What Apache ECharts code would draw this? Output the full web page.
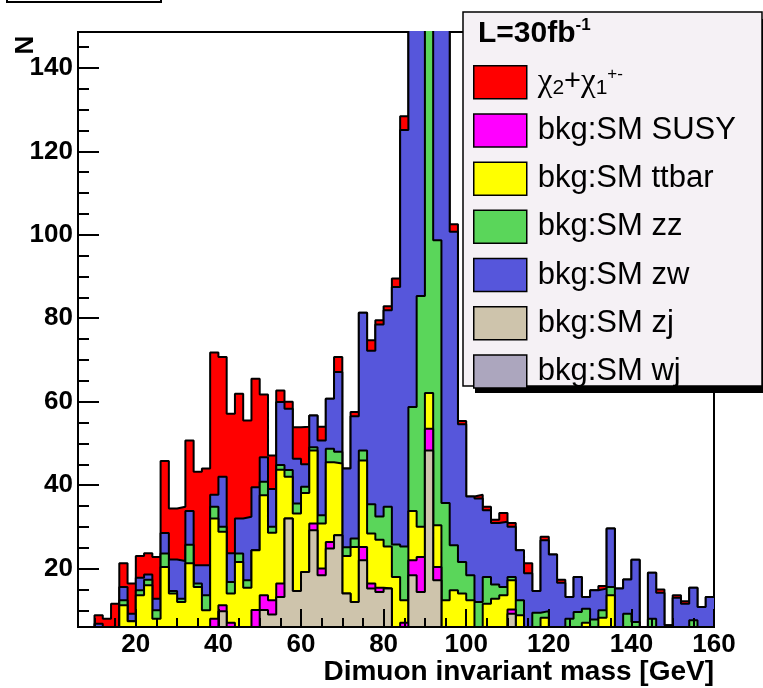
<!DOCTYPE html>
<html>
<head>
<meta charset="utf-8">
<script src="https://cdn.jsdelivr.net/npm/echarts@6/dist/echarts.min.js"></script>
<style>
html, body { margin: 0; padding: 0; background: #fff; }
#chart { width: 763px; height: 688px; }
</style>
</head>
<body>
<div id="chart"></div>
<script>
// lower edges of the 2 GeV bins
const binLow = [
  6, 8, 10, 12, 14, 16, 18, 20, 22, 24,
  26, 28, 30, 32, 34, 36, 38, 40, 42, 44,
  46, 48, 50, 52, 54, 56, 58, 60, 62, 64,
  66, 68, 70, 72, 74, 76, 78, 80, 82, 84,
  86, 88, 90, 92, 94, 96, 98, 100, 102, 104,
  106, 108, 110, 112, 114, 116, 118, 120, 122, 124,
  126, 128, 130, 132, 134, 136, 138, 140, 142, 144,
  146, 148, 150, 152, 154, 156, 158
];
const xMax = 160;

// entries per bin, stacked from the bottom up
const wj = [
  0, 0, 0, 0, 0, 0, 0, 0, 0, 0,
  0, 0, 0, 0, 0, 0, 0, 0, 0, 0,
  0, 0, 0, 0, 0, 0, 0, 0, 0, 0,
  0, 0, 0, 0, 0, 0, 0, 0, 0, 0,
  0, 0, 0, 0, 0, 0, 0, 0, 0, 0,
  0, 0, 0, 0, 0, 0, 0, 0, 0, 0,
  0, 0, 0, 0, 0, 0, 0, 0, 0, 0,
  0, 0, 0, 0, 0, 0, 0
];
const zj = [
  0, 0, 0, 0, 0, 0, 0, 0, 0, 0,
  0, 0, 0, 0, 0, 0, 0, 9.8, 0, 0,
  0, 0, 10.1, 9, 13.2, 32, 14.6, 19.2, 29.2, 18.4,
  24.8, 28, 14, 12, 22, 15.2, 14.4, 15.2, 0, 0,
  18.4, 14.4, 48.3, 17.2, 0, 0, 0, 0, 0, 0,
  0, 0, 9.2, 0, 0, 0, 0, 0, 0, 0,
  0, 0, 0, 0, 0, 0, 0, 0, 0, 0,
  0, 0, 0, 0, 0, 0, 0
];
const susy = [
  0, 0, 0, 0, 0, 0, 0, 0, 0, 0,
  0, 0, 0, 0, 0, 0, 8, 1.4, 7, 0,
  0, 10.1, 3.5, 3.4, 3.2, 0, 0, 0, 1.6, 1.6,
  1.6, 0, 0, 0, 3.2, 1.2, 1, 0, 0, 7,
  3.6, 8.4, 5.2, 3.2, 0, 0, 0, 0, 0, 0,
  0, 0, 1, 0, 0, 0, 0, 0, 0, 0,
  0, 0, 0, 0, 0, 0, 0, 0, 0, 0,
  0, 0, 0, 0, 0, 0, 0
];
const ttbar = [
  0, 0, 0, 0, 0, 11.2, 7.4, 13.6, 16, 8,
  20.4, 14, 12, 21.3, 15.6, 10, 24, 17.6, 7, 21.6,
  15.4, 14.3, 24, 16.2, 27.3, 10, 18.6, 18.9, 17.5, 10.8,
  19.1, 17.2, 9, 13.2, 20.7, 12, 11.5, 10.1, 18, 5.4,
  11.8, 7.2, 8.6, 10, 12.4, 14.8, 14, 12.4, 0, 11.6,
  12.8, 13.6, 7, 8.8, 0, 0, 8.2, 0, 0, 0,
  0, 7, 0, 8.2, 13.6, 0, 0, 0, 0, 0,
  0, 0, 0, 0, 0, 0, 0
];
const zz = [
  0, 0, 0, 0, 0, 1.2, 0, 1.2, 1.3, 2,
  3.2, 0.6, 0.8, 4.4, 0.8, 3.6, 2.8, 1.2, 2.8, 2,
  1.8, 0, 3.2, 1.4, 1.1, 1.6, 2.4, 1.5, 0.8, 2,
  3.2, 2.8, 2.1, 2, 2.4, 7, 5.6, 9.5, 7.8, 12.9,
  24.9, 55.3, 160, 68.3, 23.3, 10.8, 7.6, 6, 12, 6.4,
  3.4, 2, 0.8, 3.6, 0, 9.4, 1.6, 0, 0, 8,
  9.6, 3.4, 7.8, 1.8, 2, 0, 9.2, 7.2, 0, 8,
  0, 0, 0, 0, 7.6, 0, 0
];
const zw = [
  0, 0, 6.8, 0, 0, 3.2, 1.8, 3, 1.3, 2.8,
  4.9, 7.6, 9, 8.1, 4.4, 7.2, 2.9, 12, 6.9, 8.4,
  15.2, 15.1, 5.9, 9.1, 15.1, 14.7, 10.7, 5.4, 7.6, 17.9,
  12, 19.1, 18.9, 29.3, 33, 36.8, 46, 47.1, 61.7, 99.8,
  116, 110, 30, 95, 125, 75.1, 33, 18.9, 24.8, 16,
  14.7, 15.6, 12, 12, 18.9, 5.2, 17, 23.4, 16.6, 5.2,
  8.4, 2.8, 7, 5.2, 14, 15.2, 8.2, 14.9, 0, 11,
  14.2, 6.4, 13, 11.6, 7.8, 10.8, 13.2
];
const signal = [
  0, 0, 2, 8, 11.6, 5.7, 7.2, 5.2, 5.1, 10,
  17.3, 12.2, 13, 16.9, 22.4, 23.2, 34.1, 28.7, 33.4, 29.9,
  23.1, 26, 15, 8, 2.8, 1.7, 7.6, 9, 0, 3.3,
  0, 3.6, 0, 1, 0, 2.5, 1, 1, 2, 3.3,
  0, 0, 0, 0, 0, 1.8, 0.8, 0, 0.9, 0.8,
  0.8, 2.1, 0.9, 0, 2.4, 0, 0.8, 0, 0.7, 0,
  0, 0, 0, 0.6, 0, 0, 0, 0, 0, 0,
  0.8, 0, 0.6, 0.6, 0, 0, 0
];

// axis ticks
const xMajor = [20, 40, 60, 80, 100, 120, 140, 160];
const xMinor = [10, 15, 25, 30, 35, 45, 50, 55, 65, 70, 75, 85, 90, 95, 105, 110, 115, 125, 130, 135, 145, 150, 155];
const yMajor = [20, 40, 60, 80, 100, 120, 140];
const yMinor = [10, 15, 25, 30, 35, 45, 50, 55, 65, 70, 75, 85, 90, 95, 105, 110, 115, 125, 130, 135, 145];

const SIG = 'χ2+χ1+-';
const FONT = '"Liberation Sans", Arial, sans-serif';

// bottom of the stack first
const layers = [
  { name: 'bkg:SM wj', color: '#aca6be', values: wj },
  { name: 'bkg:SM zj', color: '#cec4ac', values: zj },
  { name: 'bkg:SM SUSY', color: '#ff00ff', values: susy },
  { name: 'bkg:SM ttbar', color: '#ffff00', values: ttbar },
  { name: 'bkg:SM zz', color: '#5ad65a', values: zz },
  { name: 'bkg:SM zw', color: '#5656db', values: zw },
  { name: SIG, color: '#ff0000', values: signal }
];

// running sums, like THStack: each layer drawn as its cumulative histogram
let running = binLow.map(() => 0);
layers.forEach(l => {
  running = running.map((v, i) => v + l.values[i]);
  l.top = running;
});

// histogram as a step line: one point per lower edge + closing point
function toSteps(values) {
  const pts = binLow.map((x, i) => [x, values[i]]);
  pts.push([xMax, values[values.length - 1]]);
  return pts;
}

const chart = echarts.init(document.getElementById('chart'));

const tickFont = { color: '#000', fontFamily: FONT, fontWeight: 'bold', fontSize: 26 };

chart.setOption({
  animation: false,
  backgroundColor: '#fff',
  grid: {
    left: 78, right: 49, top: 32, bottom: 61,
    show: true, borderColor: '#000', borderWidth: 2, backgroundColor: 'transparent'
  },
  xAxis: [
    {
      type: 'value', min: 6, max: xMax, position: 'bottom', z: 10,
      axisLine: { show: true, onZero: false, lineStyle: { color: '#000', width: 2 } },
      axisTick: { show: true, inside: true, length: 18, customValues: xMajor, lineStyle: { color: '#000', width: 2 } },
      axisLabel: Object.assign({ customValues: xMajor, margin: 5 }, tickFont),
      splitLine: { show: false }
    },
    {
      type: 'value', min: 6, max: xMax, position: 'bottom', z: 10,
      axisLine: { show: false },
      axisTick: { show: true, inside: true, length: 9, customValues: xMinor, lineStyle: { color: '#000', width: 2 } },
      axisLabel: { show: false },
      splitLine: { show: false }
    }
  ],
  yAxis: [
    {
      type: 'value', min: 6, max: 148.6, position: 'left', z: 10,
      axisLine: { show: true, onZero: false, lineStyle: { color: '#000', width: 2 } },
      axisTick: { show: true, inside: true, length: 21, customValues: yMajor, lineStyle: { color: '#000', width: 2 } },
      axisLabel: Object.assign({ customValues: yMajor, margin: 5 }, tickFont),
      splitLine: { show: false }
    },
    {
      type: 'value', min: 6, max: 148.6, position: 'left', z: 10,
      axisLine: { show: false },
      axisTick: { show: true, inside: true, length: 11, customValues: yMinor, lineStyle: { color: '#000', width: 2 } },
      axisLabel: { show: false },
      splitLine: { show: false }
    }
  ],
  legend: {
    orient: 'vertical',
    left: 473, top: 65, padding: 0,
    itemWidth: 53, itemHeight: 33, itemGap: 13.7,
    icon: 'rect', selectedMode: false, z: 21,
    data: [SIG, 'bkg:SM SUSY', 'bkg:SM ttbar', 'bkg:SM zz', 'bkg:SM zw', 'bkg:SM zj', 'bkg:SM wj'],
    itemStyle: { borderColor: '#000', borderWidth: 1.5 },
    formatter: function (name) {
      if (name === SIG) return '{g|χ}{sb|2}{t|+}{g|χ}{sb|1}{sp|+-}';
      return name;
    },
    textStyle: {
      color: '#000', fontFamily: FONT, fontSize: 31, lineHeight: 33, padding: [0, 0, 0, 6],
      rich: {
        g: { fontFamily: '"Liberation Serif", "DejaVu Serif", serif', fontSize: 33, lineHeight: 33, color: '#000' },
        t: { fontFamily: FONT, fontSize: 29, lineHeight: 33, color: '#000' },
        sb: { fontFamily: FONT, fontSize: 21, lineHeight: 16, verticalAlign: 'bottom', color: '#000' },
        sp: { fontFamily: FONT, fontSize: 17, lineHeight: 10, verticalAlign: 'top', color: '#000' }
      }
    }
  },
  graphic: [
    // corner of the title box cut by the top edge
    { type: 'rect', z: 20, shape: { x: 7, y: -30, width: 154, height: 32 },
      style: { fill: '#fff', stroke: '#000', lineWidth: 2 } },
    // legend shadow and box
    { type: 'rect', z: 19, shape: { x: 475, y: 19, width: 300, height: 374 },
      style: { fill: '#000' } },
    { type: 'rect', z: 20, shape: { x: 463, y: 12, width: 299, height: 374 },
      style: { fill: '#f5f1f5', stroke: '#000', lineWidth: 1.5 } },
    { type: 'text', z: 22, x: 478, y: 34,
      style: {
        text: '{b|L=30fb}{s|-1}',
        verticalAlign: 'middle', textVerticalAlign: 'middle',
        rich: {
          b: { fontFamily: FONT, fontWeight: 'bold', fontSize: 30, lineHeight: 34, fill: '#000' },
          s: { fontFamily: FONT, fontWeight: 'bold', fontSize: 17, lineHeight: 18, verticalAlign: 'top', fill: '#000' }
        }
      } },
    { type: 'text', z: 22, x: 26, y: 45, rotation: Math.PI / 2,
      style: { text: 'N', font: 'bold 26px ' + FONT, fill: '#000',
        align: 'center', verticalAlign: 'middle', textAlign: 'center', textVerticalAlign: 'middle' } },
    { type: 'text', z: 22, x: 714, y: 672,
      style: { text: 'Dimuon invariant mass [GeV]', font: 'bold 28px ' + FONT, fill: '#000',
        align: 'right', verticalAlign: 'middle', textAlign: 'right', textVerticalAlign: 'middle' } }
  ],
  // top layer first; lower cumulative layers drawn over it
  series: layers.map((l, i) => ({
    name: l.name,
    type: 'line',
    step: 'end',
    symbol: 'none',
    showSymbol: false,
    silent: true,
    color: l.color,
    z: 2 + (layers.length - 1 - i),
    lineStyle: { color: '#000', width: 2 },
    areaStyle: { color: l.color, opacity: 1, origin: 'start' },
    itemStyle: { color: l.color },
    emphasis: { disabled: true },
    data: toSteps(l.top)
  }))
});
</script>
</body>
</html>
